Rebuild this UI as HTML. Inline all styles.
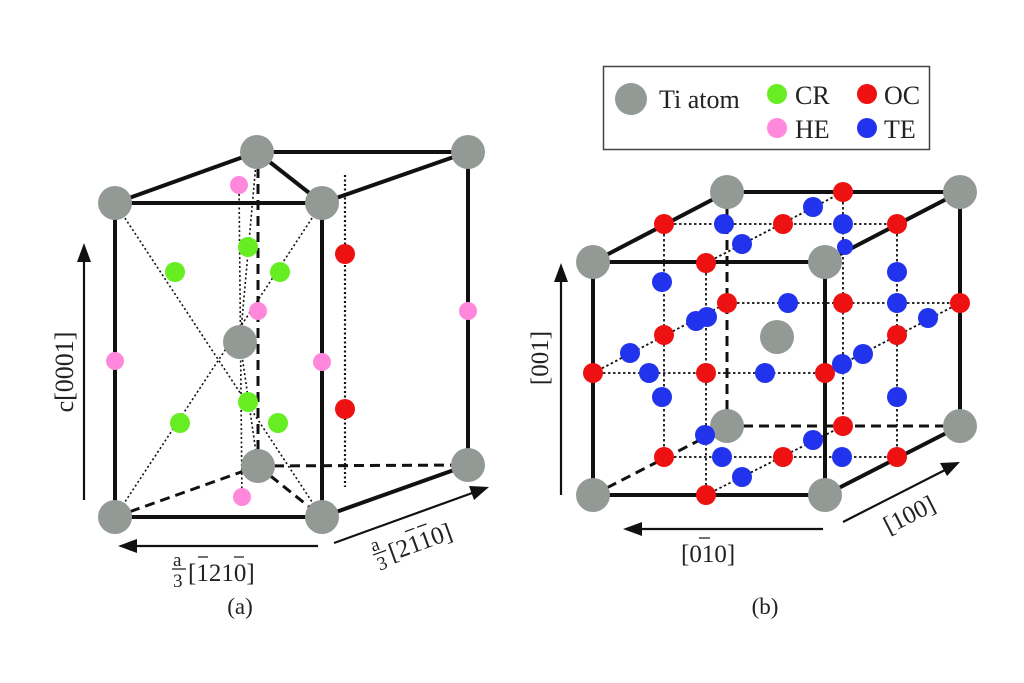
<!DOCTYPE html>
<html><head><meta charset="utf-8"><style>html,body{margin:0;padding:0;background:#fff}svg{display:block}text{font-family:"Liberation Serif",serif;fill:#222}</style></head><body>
<svg width="1024" height="683" viewBox="0 0 1024 683" xmlns="http://www.w3.org/2000/svg">
<g stroke="#111" fill="none">
<g stroke-width="1.6" stroke-dasharray="2,2.5">
<line x1="115" y1="203" x2="322" y2="517"/>
<line x1="322" y1="203" x2="115" y2="517"/>
<line x1="257" y1="152" x2="240" y2="342"/>
<line x1="240" y1="342" x2="258" y2="466"/>
<line x1="239" y1="185" x2="242" y2="497"/>
<line x1="345" y1="175" x2="345" y2="487" stroke-width="2.2"/>
</g>
<g stroke-width="3" stroke-dasharray="10,6">
<line x1="115" y1="517" x2="258" y2="466"/>
<line x1="258" y1="466" x2="468" y2="465"/>
<line x1="258" y1="466" x2="322" y2="517"/>
<line x1="258" y1="152" x2="258" y2="466"/>
</g>
<g stroke-width="4">
<line x1="115" y1="203" x2="257" y2="152"/>
<line x1="257" y1="152" x2="468" y2="152"/>
<line x1="257" y1="152" x2="322" y2="203"/>
<line x1="115" y1="203" x2="322" y2="203"/>
<line x1="322" y1="203" x2="468" y2="152"/>
<line x1="115" y1="203" x2="115" y2="517"/>
<line x1="322" y1="203" x2="322" y2="517"/>
<line x1="468" y1="152" x2="468" y2="465"/>
<line x1="115" y1="517" x2="322" y2="517"/>
<line x1="322" y1="517" x2="468" y2="465"/>
</g>
<g stroke-width="2.2">
<line x1="84" y1="500" x2="84" y2="258"/>
<line x1="318" y1="546" x2="133" y2="546"/>
<line x1="334" y1="543" x2="475" y2="492"/>
</g>
<g stroke-width="1.8" stroke-dasharray="2.5,2.5">
<line x1="664" y1="224" x2="897" y2="224"/>
<line x1="727" y1="303" x2="960" y2="303"/>
<line x1="593" y1="373" x2="825" y2="373"/>
<line x1="664" y1="457" x2="897" y2="457"/>
<line x1="664" y1="224" x2="664" y2="457"/>
<line x1="706" y1="263" x2="706" y2="495"/>
<line x1="843" y1="192" x2="843" y2="426"/>
<line x1="897" y1="224" x2="897" y2="457"/>
<line x1="706" y1="263" x2="843" y2="192"/>
<line x1="593" y1="373" x2="727" y2="303"/>
<line x1="825" y1="373" x2="960" y2="303"/>
<line x1="706" y1="495" x2="843" y2="426"/>
</g>
<g stroke-width="3" stroke-dasharray="10,6">
<line x1="727" y1="192" x2="727" y2="426"/>
<line x1="727" y1="426" x2="960" y2="426"/>
<line x1="593" y1="495" x2="727" y2="426"/>
</g>
<g stroke-width="4">
<line x1="727" y1="192" x2="960" y2="192"/>
<line x1="593" y1="262" x2="727" y2="192"/>
<line x1="825" y1="262" x2="960" y2="192"/>
<line x1="593" y1="262" x2="825" y2="262"/>
<line x1="593" y1="262" x2="593" y2="495"/>
<line x1="825" y1="262" x2="825" y2="495"/>
<line x1="960" y1="192" x2="960" y2="426"/>
<line x1="593" y1="495" x2="825" y2="495"/>
<line x1="825" y1="495" x2="960" y2="426"/>
</g>
<g stroke-width="2.2">
<line x1="561" y1="495" x2="561" y2="278"/>
<line x1="823" y1="529" x2="638" y2="529"/>
<line x1="843" y1="522" x2="947" y2="469"/>
</g>
</g>
<g fill="#111">
<polygon points="84,243 77,262 91,262"/>
<polygon points="118,546 137,539 137,553"/>
<polygon points="489,487 469,486 474,500"/>
<polygon points="561,263 554,282 568,282"/>
<polygon points="623,529 642,522 642,536"/>
<polygon points="960,462 940,463 947,476"/>
</g>
<g fill="#939a96">
<circle cx="257" cy="152" r="17"/><circle cx="468" cy="152" r="17"/>
<circle cx="115" cy="203" r="17"/><circle cx="322" cy="203" r="17"/>
<circle cx="240" cy="342" r="17"/>
<circle cx="258" cy="466" r="17"/><circle cx="468" cy="465" r="17"/>
<circle cx="115" cy="517" r="17"/><circle cx="322" cy="517" r="17"/>
</g>
<g fill="#ff88dd">
<circle cx="239" cy="185" r="9"/><circle cx="242" cy="497" r="9"/><circle cx="115" cy="361" r="9"/><circle cx="322" cy="362" r="9"/><circle cx="468" cy="311" r="9"/><circle cx="258" cy="311" r="9"/>
</g>
<g fill="#66ee22">
<circle cx="175" cy="272" r="10"/><circle cx="280" cy="272" r="10"/><circle cx="248" cy="247" r="10"/><circle cx="180" cy="423" r="10"/><circle cx="278" cy="423" r="10"/><circle cx="248" cy="402" r="10"/>
</g>
<g fill="#ee1111"><circle cx="345" cy="254" r="10"/><circle cx="345" cy="409" r="10"/></g>
<g fill="#939a96">
<circle cx="727" cy="192" r="17"/><circle cx="960" cy="192" r="17"/>
<circle cx="593" cy="262" r="17"/><circle cx="825" cy="262" r="17"/>
<circle cx="777" cy="337" r="17"/>
<circle cx="727" cy="426" r="17"/><circle cx="960" cy="426" r="17"/>
<circle cx="593" cy="495" r="17"/><circle cx="825" cy="495" r="17"/>
</g>
<g fill="#ee1111">
<circle cx="843" cy="192" r="10"/><circle cx="664" cy="224" r="10"/><circle cx="783" cy="224" r="10"/><circle cx="897" cy="224" r="10"/><circle cx="706" cy="263" r="10"/><circle cx="727" cy="303" r="10"/><circle cx="843" cy="303" r="10"/><circle cx="960" cy="303" r="10"/><circle cx="664" cy="335" r="10"/><circle cx="897" cy="335" r="10"/><circle cx="593" cy="373" r="10"/><circle cx="706" cy="373" r="10"/><circle cx="825" cy="373" r="10"/><circle cx="843" cy="426" r="10"/><circle cx="664" cy="457" r="10"/><circle cx="783" cy="457" r="10"/><circle cx="897" cy="457" r="10"/><circle cx="706" cy="495" r="10"/>
</g>
<g fill="#2233ee">
<circle cx="813" cy="207" r="10"/><circle cx="724" cy="224" r="10"/><circle cx="843" cy="224" r="10"/><circle cx="742" cy="244" r="10"/><circle cx="845" cy="247" r="8"/><circle cx="662" cy="282" r="10"/><circle cx="897" cy="272" r="10"/><circle cx="788" cy="303" r="10"/><circle cx="897" cy="303" r="10"/><circle cx="696" cy="321" r="10"/><circle cx="707" cy="317" r="10"/><circle cx="928" cy="318" r="10"/><circle cx="630" cy="353" r="10"/><circle cx="863" cy="354" r="10"/><circle cx="842" cy="364" r="10"/><circle cx="649" cy="373" r="10"/><circle cx="765" cy="373" r="10"/><circle cx="662" cy="397" r="10"/><circle cx="897" cy="397" r="10"/><circle cx="705" cy="435" r="10"/><circle cx="813" cy="440" r="10"/><circle cx="722" cy="457" r="10"/><circle cx="842" cy="457" r="10"/><circle cx="742" cy="477" r="10"/>
</g>
<rect x="603.5" y="66.5" width="326" height="83" fill="none" stroke="#444" stroke-width="1.5"/>
<circle cx="631" cy="99" r="16" fill="#939a96"/>
<text x="659" y="108" font-size="26">Ti atom</text>
<circle cx="777" cy="94" r="10" fill="#66ee22"/><text x="795" y="104" font-size="26">CR</text>
<circle cx="867" cy="94" r="10" fill="#ee1111"/><text x="884" y="104" font-size="26">OC</text>
<circle cx="777" cy="128" r="10" fill="#ff88dd"/><text x="795" y="138" font-size="26">HE</text>
<circle cx="867" cy="128" r="10" fill="#2233ee"/><text x="884" y="138" font-size="26">TE</text>
<text transform="translate(73,372) rotate(-90)" text-anchor="middle" font-size="26">c[0001]</text>
<text x="173" y="566" font-size="19">a</text>
<line x1="172" y1="569" x2="186" y2="569" stroke="#222" stroke-width="1.3"/>
<text x="173" y="587" font-size="19">3</text>
<text x="188" y="581" font-size="25">[1210]</text>
<line x1="198" y1="557" x2="208" y2="557" stroke="#222" stroke-width="1.3"/>
<line x1="234" y1="557" x2="244" y2="557" stroke="#222" stroke-width="1.3"/>
<g transform="translate(378,566) rotate(-20)">
<text x="0" y="-15" font-size="19">a</text>
<line x1="-1" y1="-12" x2="13" y2="-12" stroke="#222" stroke-width="1.3"/>
<text x="0" y="5" font-size="19">3</text>
<text x="15" y="0" font-size="25">[2110]</text>
<line x1="37" y1="-23" x2="47" y2="-23" stroke="#222" stroke-width="1.3"/>
<line x1="50" y1="-23" x2="60" y2="-23" stroke="#222" stroke-width="1.3"/>
</g>
<text x="240" y="614" text-anchor="middle" font-size="23">(a)</text>
<text transform="translate(548,358) rotate(-90)" text-anchor="middle" font-size="25">[001]</text>
<text x="681" y="562" font-size="25">[010]</text>
<line x1="699" y1="538" x2="710" y2="538" stroke="#222" stroke-width="1.3"/>
<text transform="translate(913,522) rotate(-27)" text-anchor="middle" font-size="25">[100]</text>
<text x="765" y="614" text-anchor="middle" font-size="23">(b)</text>
</svg>
</body></html>
